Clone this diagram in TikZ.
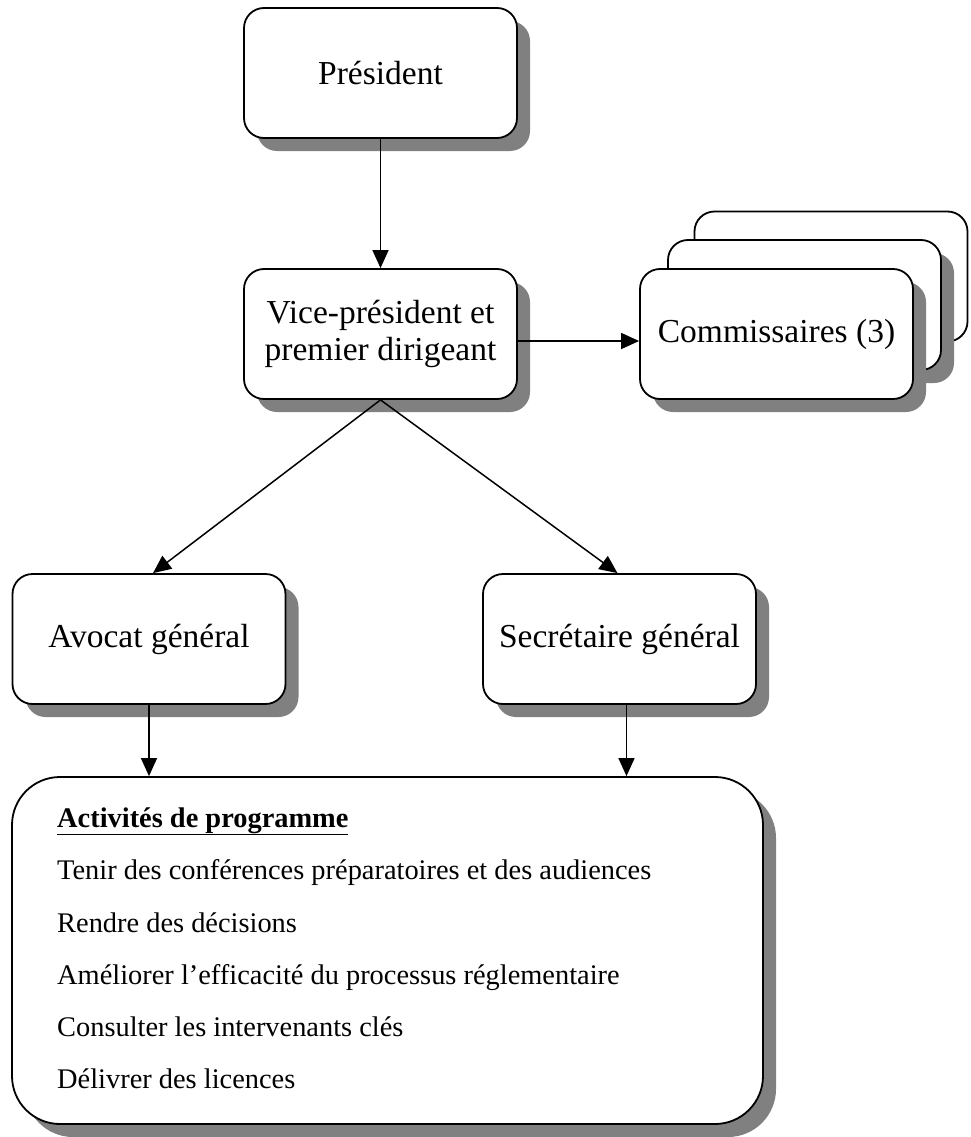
\documentclass[tikz,border=0pt]{standalone}
\usepackage{fontspec}
\setmainfont{Liberation Serif}
\usetikzlibrary{arrows.meta,shadows}
\definecolor{shadowgray}{RGB}{128,128,128}
\begin{document}
\begin{tikzpicture}[x=1pt,y=-1pt,
  box/.style={draw=black, line width=1.8pt, fill=white, rounded corners=20pt,
    minimum width=273pt, minimum height=130pt, inner sep=0pt, align=center,
    font=\fontsize{33.5}{37}\selectfont},
  shadowed/.style={drop shadow={shadow xshift=13pt, shadow yshift=-13pt,
    fill=shadowgray, opacity=1}},
  conn/.style={line width=1.5pt, -{Triangle[length=18pt,width=16pt]}},
  acttext/.style={anchor=base west, inner sep=0pt, font=\fontsize{28.4}{34}\selectfont}
]
\useasboundingbox (0,0) rectangle (970,1137);

% boxes
\node[box, shadowed] (pres) at (380.5,73) {Président};
\node[box, shadowed] (vp) at (380.5,334) {Vice-président et\\premier dirigeant};

\node[box] (comA) at (831,276.5) {};
\node[box, shadowed] (comB) at (804.5,305) {};
\node[box, shadowed] (comC) at (776.5,334) {Commissaires (3)};

\node[box, shadowed] (avo) at (149,639) {Avocat général};
\node[box, shadowed] (sec) at (619.5,639) {Secrétaire général};

\node[box, shadowed, minimum width=751pt, minimum height=347pt, rounded corners=48pt] (act) at (387.5,950.5) {};

% activity text
\node[acttext] (t0) at (57,827) {\textbf{\underline{Activités de programme}}};
\node[acttext] (t1) at (57,879) {Tenir des conférences préparatoires et des audiences};
\node[acttext] (t2) at (57,932) {Rendre des décisions};
\node[acttext] (t3) at (57,984) {Améliorer l’efficacité du processus réglementaire};
\node[acttext] (t4) at (57,1036) {Consulter les intervenants clés};
\node[acttext] (t5) at (57,1088) {Délivrer des licences};

% connectors
\draw[conn] (pres.south) -- (vp.north);
\draw[conn] ([yshift=-7pt]vp.east) -- ([yshift=-7pt]comC.west);
\draw[conn] (vp.south) -- ([xshift=4pt]avo.north);
\draw[conn] (vp.south) -- ([xshift=-2pt]sec.north);
\draw[conn] (avo.south) -- (avo.south |- act.north);
\draw[conn] ([xshift=7pt]sec.south) -- ([xshift=7pt]sec.south |- act.north);
\end{tikzpicture}
\end{document}
